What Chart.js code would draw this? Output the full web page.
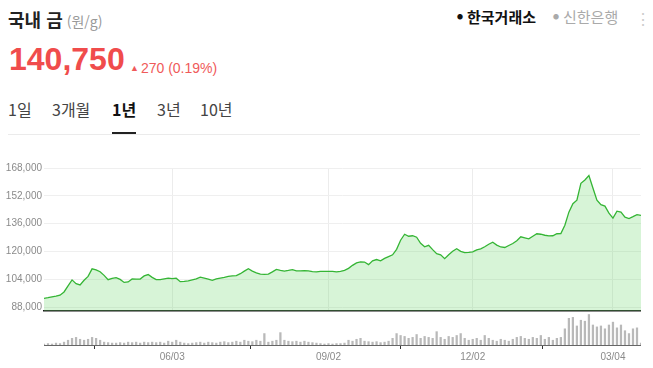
<!DOCTYPE html>
<html lang="ko">
<head>
<meta charset="UTF-8">
<title>국내 금</title>
<style>
    body {
        margin: 0;
        width: 653px;
        height: 368px;
        background: #fff;
        font-family: "Noto Sans CJK KR", "Noto Sans", sans-serif;
        position: relative;
        overflow: hidden;
    }
    .title { position: absolute; left: 8px; top: 6px; font-size: 18px; font-weight: bold; color: #222; }
    .title span { font-size: 14px; font-weight: normal; color: #999; margin-left: 4px; }
    .price { position: absolute; left: 9px; top: 41px; font-size: 32px; font-weight: bold; color: #f04c4c; font-family: "Liberation Sans", Arial, sans-serif; }
    .change { position: absolute; left: 130px; top: 60px; font-size: 14px; color: #f05a5a; font-family: "Liberation Sans", Arial, sans-serif; }
    .change b { font-size: 9px; position: relative; top: -2px; margin-right: 2px; }
    .tabs { position: absolute; left: 8px; top: 97px; font-size: 16px; color: #444; }
    .tabs span { position: absolute; white-space: nowrap; }
    .tabs .on { font-weight: bold; color: #111; }
    .tabs .on:after { content: ""; position: absolute; left: 0; right: 0; top: 35px; height: 2px; background: #222; }
    .sep { position: absolute; left: 8px; width: 632px; top: 134px; height: 1px; background: #ebebeb; }
    .src { position: absolute; top: 6px; font-size: 15px; white-space: nowrap; }
    .src i { font-style: normal; font-size: 6px; position: relative; top: -4px; margin-right: 4px; }
    .dots { position: absolute; left: 635px; top: 6px; font-size: 16px; color: #ccc; }
    #priceBox { position: absolute; left: 0; top: 160px; width: 641px; height: 159px; }
    #volBox { position: absolute; left: 0; top: 305px; width: 641px; height: 60px; }
</style>
</head>
<body>
    <div class="title">국내 금<span>(원/g)</span></div>
    <div class="price">140,750</div>
    <div class="change"><b>▲</b>270 (0.19%)</div>
    <div class="tabs">
        <span style="left:0">1일</span>
        <span style="left:44px">3개월</span>
        <span class="on" style="left:104px">1년</span>
        <span style="left:149px">3년</span>
        <span style="left:192px">10년</span>
    </div>
    <div class="sep"></div>
    <div class="src" style="left:457px;color:#111;font-weight:bold"><i>●</i>한국거래소</div>
    <div class="src" style="left:553px;color:#aaa"><i>●</i>신한은행</div>
    <div class="dots">⋮</div>

    <div id="volBox"><canvas id="volChart"></canvas></div>
    <div id="priceBox"><canvas id="priceChart"></canvas></div>

    <script src="https://cdn.jsdelivr.net/npm/chart.js"></script>
    <script>
        // 1년 시세 (원/g), 약 1.6거래일 간격
        var prices = [
            92910, 93370, 93890, 94300, 94820, 96660, 100130, 103600, 101400, 100710,
            103420, 105620, 109950, 109370, 108330, 106190, 103710, 104460, 104870, 103880,
            102150, 102440, 104170, 104060, 104100, 105910, 106660, 105040, 103770, 103710,
            104230, 104580, 104290, 104600, 102610, 102730, 103020, 103600, 104170, 105150,
            104580, 104000, 103310, 104200, 104600, 105040, 105620, 105910, 106080, 107180,
            108620, 110010, 108620, 107700, 106890, 106770, 106890, 108220, 109660, 109080,
            108680, 109080, 109540, 108790, 108800, 108970, 108790, 108330, 108220, 108500,
            108500, 108500, 108450, 108220, 108500, 109080, 110240, 111970, 113410, 113990,
            113880, 112380, 114570, 115320, 114570, 116010, 117000, 118040, 121210, 126410,
            129880, 128720, 129010, 128140, 124680, 122660, 123520, 121040, 118730, 118040,
            115840, 118040, 120060, 121500, 120060, 119310, 119480, 119770, 120920, 121500,
            122660, 124100, 125260, 123640, 122540, 122250, 123410, 124560, 126120, 128430,
            127850, 127220, 128720, 130170, 129880, 129300, 128950, 129010, 130170, 130280,
            135070, 142580, 147490, 149510, 159160, 161070, 163670, 156450, 149510, 146920,
            146050, 142010, 139120, 143160, 142580, 139700, 138940, 139980, 141140, 140750
        ];

        // 거래량 (상대값)
        var volumes = [
            1, 1.5, 1, 2, 1.5, 3, 5, 7, 8, 6,
            5, 6, 8, 7, 5, 3, 2.5, 2, 2, 2.5,
            2, 3, 2.5, 3, 2, 3, 2.5, 3, 2.5, 3,
            2, 4, 3, 5, 3, 2, 1.5, 2, 2.5, 3,
            2, 3, 2.5, 2, 3, 3.5, 2.5, 3, 4, 3,
            5, 4, 3.5, 5, 4, 12, 3, 4, 5, 13,
            5, 4, 3.5, 4, 3, 4, 3, 2.5, 2, 1.5,
            1, 1.5, 1, 1.5, 1.5, 2, 5, 4, 6, 7,
            4, 3.5, 3, 3.5, 2.5, 3, 4, 7, 12, 10,
            9, 7, 8, 11, 7, 9, 8, 7, 14, 8,
            6, 9, 8, 10, 12, 7, 5, 6, 7, 5,
            10, 7, 5, 4, 6, 5, 4, 6, 8, 9,
            7, 6, 8, 7, 10, 6, 8, 5, 7, 8,
            17, 28, 29, 20, 26, 25, 32, 21, 19, 20,
            17, 21, 24, 18, 21, 15, 12, 17, 18, 2
        ];

        var yTicks = [88000, 104000, 120000, 136000, 152000, 168000];
        var dateTicks = ['06/03', '09/02', '12/02', '03/04'];
        var dateTickIndex = [32, 71, 107, 142];

        var last = prices.length - 1;
        var priceData = prices.map(function (v, i) { return { x: i, y: v }; });
        var volData = volumes.map(function (v, i) { return { x: i, y: v }; });

        function setDateTicks(axis) {
            axis.ticks = dateTickIndex.map(function (v) { return { value: v }; });
        }
        function dateLabel(value) {
            var k = dateTickIndex.indexOf(value);
            return k >= 0 ? dateTicks[k] : '';
        }
        function fixWidth(axis) { axis.width = 44; }

        Chart.defaults.font.family = '"Liberation Sans", Arial, sans-serif';
        Chart.defaults.animation = false;

        new Chart(document.getElementById('priceChart'), {
            type: 'line',
            data: {
                datasets: [{
                    data: priceData,
                    borderColor: '#35b535',
                    borderWidth: 1.3,
                    backgroundColor: 'rgba(110, 215, 110, 0.28)',
                    fill: 'start',
                    pointRadius: 0,
                    tension: 0
                }]
            },
            options: {
                responsive: true,
                maintainAspectRatio: false,
                layout: { padding: 0 },
                plugins: { legend: { display: false }, tooltip: { enabled: false } },
                scales: {
                    x: {
                        type: 'linear',
                        min: 0,
                        max: last,
                        afterBuildTicks: setDateTicks,
                        ticks: { display: false },
                        grid: { color: '#ececec', drawTicks: false },
                        border: { color: '#1a1a1a', width: 1.5 }
                    },
                    y: {
                        min: 85700,
                        max: 168000,
                        afterBuildTicks: function (axis) {
                            axis.ticks = yTicks.map(function (v) { return { value: v }; });
                        },
                        afterFit: fixWidth,
                        ticks: {
                            color: '#8a8a8a',
                            font: { size: 10 },
                            padding: 2,
                            callback: function (v) { return v.toLocaleString('en-US'); }
                        },
                        grid: { color: '#efefef', drawTicks: false },
                        border: { display: false }
                    }
                }
            }
        });

        new Chart(document.getElementById('volChart'), {
            type: 'bar',
            data: {
                datasets: [{
                    data: volData,
                    backgroundColor: '#b9b9b9',
                    barThickness: 1.6
                }]
            },
            options: {
                responsive: true,
                maintainAspectRatio: false,
                layout: { padding: 0 },
                plugins: { legend: { display: false }, tooltip: { enabled: false } },
                scales: {
                    x: {
                        type: 'linear',
                        min: 0,
                        max: last,
                        offset: false,
                        afterBuildTicks: setDateTicks,
                        ticks: {
                            color: '#8a8a8a',
                            font: { size: 10 },
                            padding: 2,
                            maxRotation: 0,
                            callback: dateLabel
                        },
                        grid: { drawOnChartArea: false, drawTicks: true, tickLength: 4, color: '#333' },
                        border: { color: '#666', width: 1 }
                    },
                    y: {
                        min: 0,
                        max: 42,
                        afterFit: fixWidth,
                        ticks: { display: false },
                        grid: { display: false },
                        border: { display: false }
                    }
                }
            }
        });
    </script>
</body>
</html>
